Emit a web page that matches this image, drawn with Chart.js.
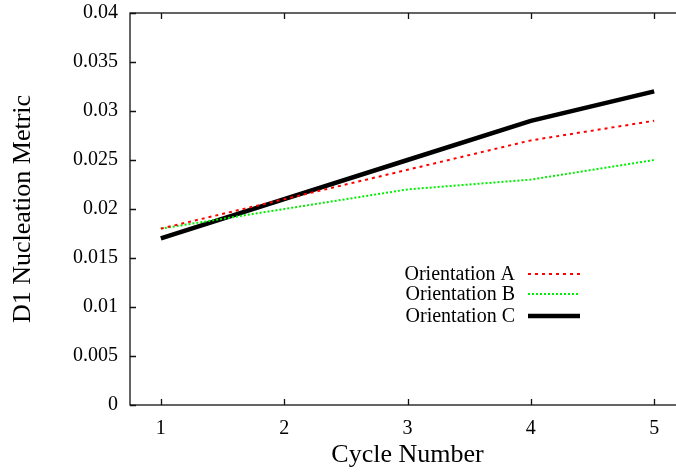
<!DOCTYPE html>
<html>
<head>
<meta charset="utf-8">
<script src="https://cdn.jsdelivr.net/npm/chart.js@4.4.1/dist/chart.umd.min.js"></script>
<style>
  html, body { margin: 0; padding: 0; background: #fff; overflow: hidden; }
  #wrap { width: 686px; height: 474px; }
</style>
</head>
<body>
<div id="wrap"><canvas id="grafico" width="686" height="474"></canvas></div>
<script>
// --- dados ---
const ciclos = [1, 2, 3, 4, 5];
const orientacaoA = [0.018, 0.021, 0.024, 0.027, 0.029];
const orientacaoB = [0.018, 0.020, 0.022, 0.023, 0.025];
const orientacaoC = [0.017, 0.021, 0.025, 0.029, 0.032];
const ticksY = [0, 0.005, 0.01, 0.015, 0.02, 0.025, 0.03, 0.035, 0.04];

const FONTE = '"Liberation Serif", "DejaVu Serif", serif';

function pontos(valores) {
    return ciclos.map((c, i) => ({ x: c, y: valores[i] }));
}

// Moldura + ticks para dentro (estilo gnuplot)
const molduraGnuplot = {
    id: 'molduraGnuplot',
    afterDatasetsDraw(chart) {
        const { ctx, chartArea: a, scales: { x, y } } = chart;
        const tam = 6;
        ctx.save();
        ctx.strokeStyle = '#111';
        ctx.lineWidth = 1.3;
        ctx.strokeRect(a.left, a.top, a.right - a.left, a.bottom - a.top);
        ctx.beginPath();
        ciclos.forEach(c => {
            const px = Math.round(x.getPixelForValue(c)) + 0.5;
            ctx.moveTo(px, a.bottom); ctx.lineTo(px, a.bottom - tam);
            ctx.moveTo(px, a.top); ctx.lineTo(px, a.top + tam);
        });
        ticksY.forEach(v => {
            const py = Math.round(y.getPixelForValue(v)) + 0.5;
            ctx.moveTo(a.left, py); ctx.lineTo(a.left + tam, py);
            ctx.moveTo(a.right, py); ctx.lineTo(a.right - tam, py);
        });
        ctx.stroke();
        ctx.restore();
    }
};

// Legenda no estilo gnuplot: texto à esquerda, amostra da linha à direita
const legendaGnuplot = {
    id: 'legendaGnuplot',
    afterDraw(chart) {
        const { ctx } = chart;
        const linhasY = [274, 294, 316];
        ctx.save();
        ctx.font = '20px ' + FONTE;
        ctx.fillStyle = '#000';
        ctx.textAlign = 'right';
        ctx.textBaseline = 'middle';
        chart.data.datasets.forEach((ds, i) => {
            const yy = linhasY[i];
            ctx.fillText(ds.label, 515, yy + 1);
            ctx.beginPath();
            ctx.strokeStyle = ds.borderColor;
            ctx.lineWidth = ds.borderWidth;
            ctx.setLineDash(ds.borderDash || []);
            ctx.moveTo(528, yy);
            ctx.lineTo(580, yy);
            ctx.stroke();
        });
        ctx.restore();
    }
};

new Chart(document.getElementById('grafico'), {
    type: 'line',
    data: {
        datasets: [
            {
                label: 'Orientation A',
                data: pontos(orientacaoA),
                borderColor: '#ff0000',
                borderWidth: 2,
                borderDash: [3, 4]
            },
            {
                label: 'Orientation B',
                data: pontos(orientacaoB),
                borderColor: '#00ee00',
                borderWidth: 2,
                borderDash: [2, 2]
            },
            {
                label: 'Orientation C',
                data: pontos(orientacaoC),
                borderColor: '#000000',
                borderWidth: 4.5
            }
        ]
    },
    options: {
        responsive: false,
        animation: false,
        devicePixelRatio: 1,
        layout: { padding: { top: 13, right: 1, left: 0, bottom: 0 } },
        elements: { point: { radius: 0 }, line: { tension: 0 } },
        plugins: {
            legend: { display: false },
            tooltip: { enabled: false }
        },
        scales: {
            x: {
                type: 'linear',
                min: 0.75,
                max: 5.25,
                afterBuildTicks: (s) => { s.ticks = ciclos.map(v => ({ value: v })); },
                afterFit: (s) => { s.height = 69; s.paddingLeft = 0; s.paddingRight = 0; },
                grid: { display: false, drawTicks: false },
                border: { display: false },
                ticks: {
                    color: '#000',
                    padding: 12,
                    font: { family: FONTE, size: 20 }
                },
                title: {
                    display: true,
                    text: 'Cycle Number',
                    color: '#000',
                    padding: { top: 0, bottom: 3 },
                    font: { family: FONTE, size: 26 }
                }
            },
            y: {
                min: 0,
                max: 0.04,
                afterBuildTicks: (s) => { s.ticks = ticksY.map(v => ({ value: v })); },
                afterFit: (s) => { s.width = 130; s.paddingTop = 0; s.paddingBottom = 0; },
                grid: { display: false, drawTicks: false },
                border: { display: false },
                ticks: {
                    color: '#000',
                    padding: 12,
                    font: { family: FONTE, size: 20 },
                    callback: (v) => String(+v.toFixed(3))
                },
                title: {
                    display: true,
                    text: 'D1 Nucleation Metric',
                    color: '#000',
                    padding: { top: 8, bottom: 0 },
                    font: { family: FONTE, size: 26 }
                }
            }
        }
    },
    plugins: [molduraGnuplot, legendaGnuplot]
});
</script>
</body>
</html>
